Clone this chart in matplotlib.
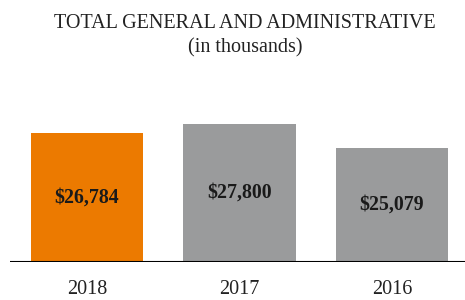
import matplotlib
matplotlib.use("Agg")
import matplotlib.pyplot as plt

# data
years = ["2018", "2017", "2016"]
values = [26784, 27800, 25079]
bar_colors = ["#EC7A00", "#9A9B9C", "#9A9B9C"]
value_labels = ["$26,784", "$27,800", "$25,079"]

plt.rcParams['font.family'] = ['Liberation Serif', 'DejaVu Serif']

fig = plt.figure(figsize=(4.65, 3.0), dpi=100)
ax = fig.add_axes([10 / 465, 38 / 300, 455 / 465, 152 / 300])

x = [0, 1, 2]
ax.bar(x, values, width=0.735, color=bar_colors, zorder=2)
ax.set_xlim(-0.505, 2.479)
ax.set_ylim(12154, 29388)

ymin = ax.get_ylim()[0]
for xi, v, lab in zip(x, values, value_labels):
    ax.text(xi, (v + ymin) / 2, lab.replace("$", r"\$"), ha='center', va='center',
            fontsize=14.3, fontweight='bold', color='#1a1a1a')

ax.axhline(ymin, color='black', linewidth=1.5, zorder=3)

for s in ax.spines.values():
    s.set_visible(False)
ax.set_yticks([])
ax.set_xticks(x)
ax.set_xticklabels(years, fontsize=14.5, color='#222222')
ax.tick_params(axis='x', length=0, pad=13)

fig.text(245 / 465, 1 - 23 / 300, "TOTAL GENERAL AND ADMINISTRATIVE", ha='center', va='center',
         fontsize=14.5, color='#222222')
fig.text(245 / 465, 1 - 48 / 300, "(in thousands)", ha='center', va='center',
         fontsize=14.5, color='#222222')

fig.savefig("out.png", dpi=100)
